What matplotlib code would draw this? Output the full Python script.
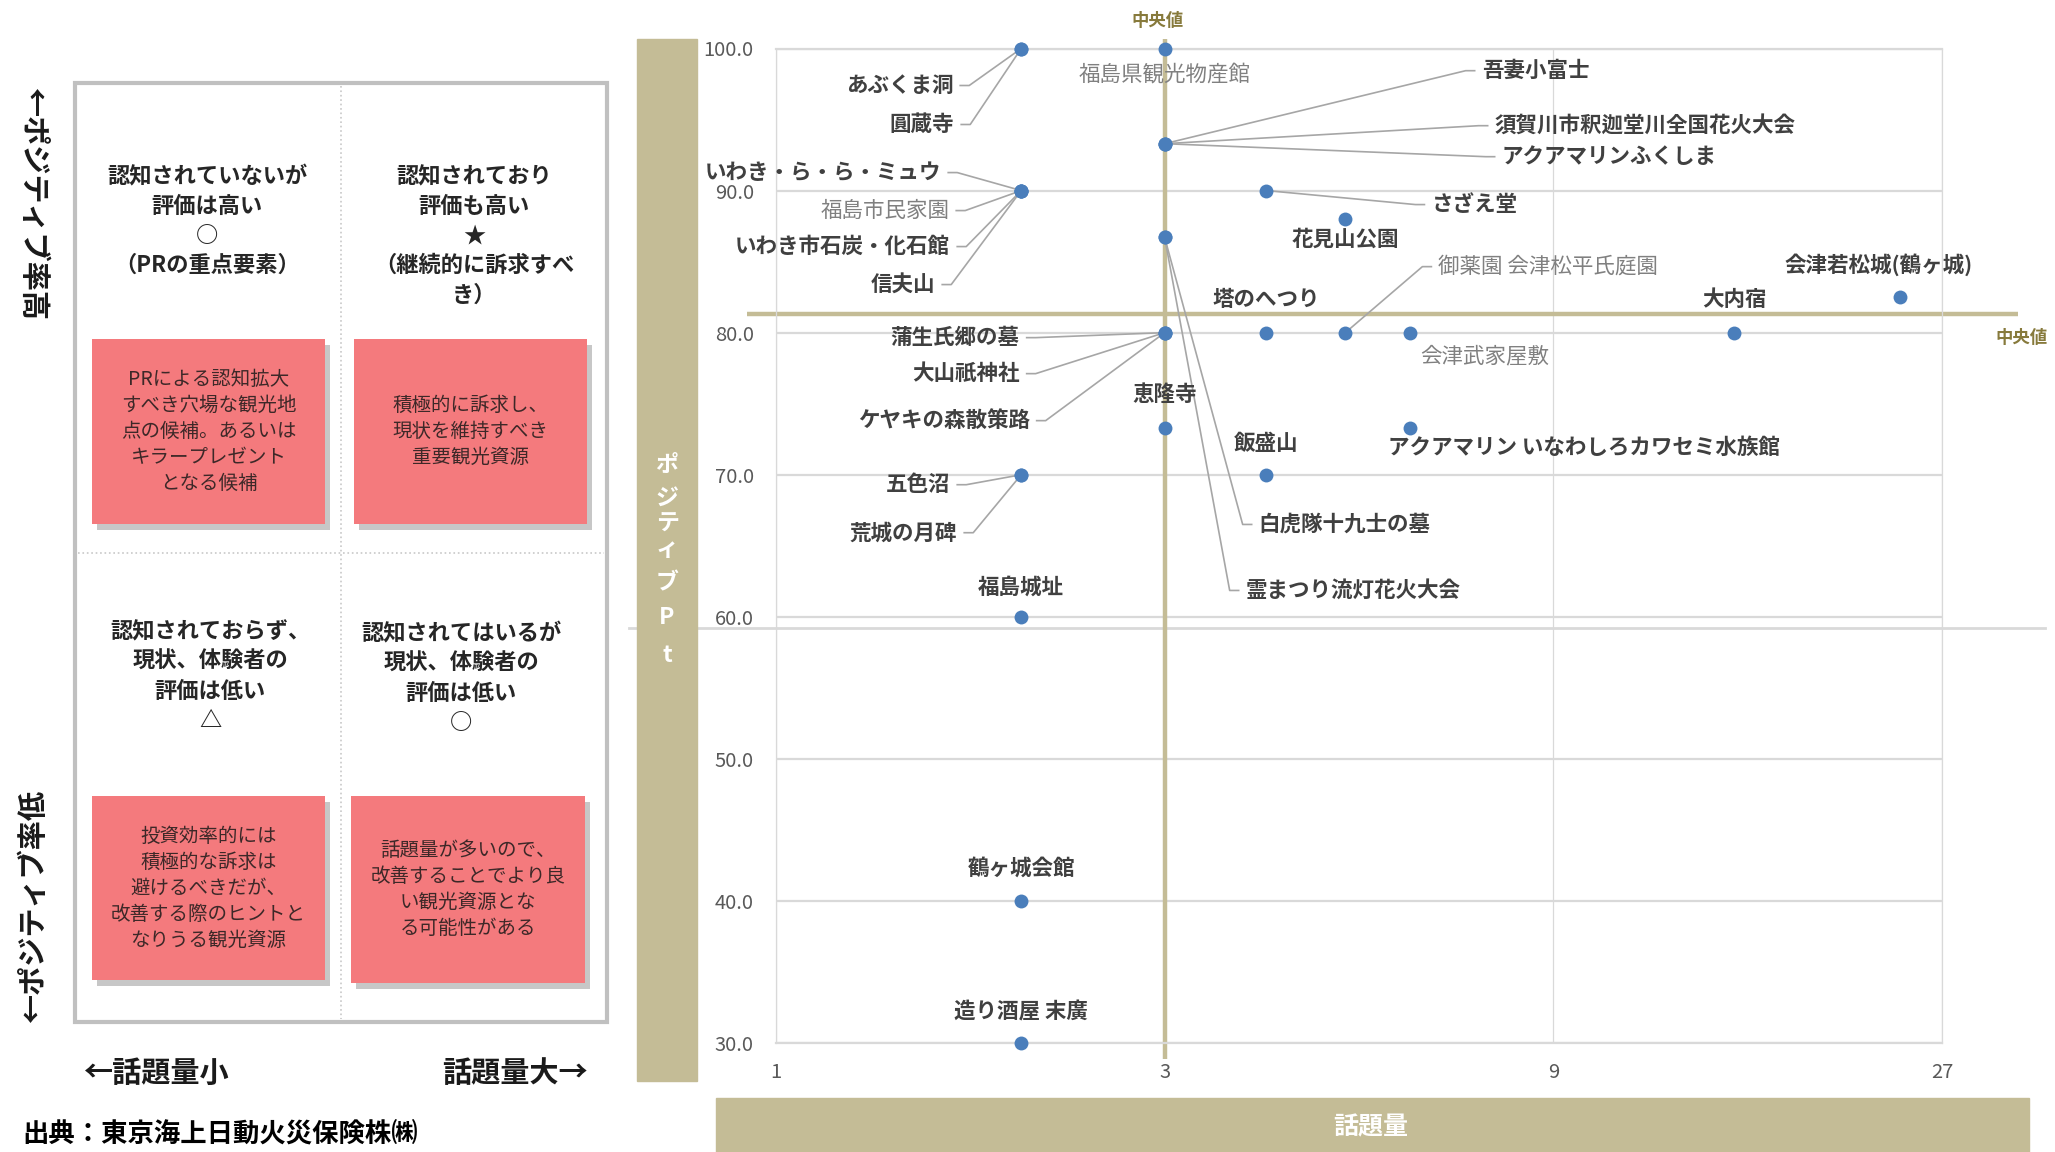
import matplotlib
matplotlib.use("Agg")
import matplotlib.pyplot as plt
from matplotlib.patches import Rectangle
from matplotlib.lines import Line2D
from matplotlib.transforms import IdentityTransform
from matplotlib.ticker import NullLocator

plt.rcParams['font.family'] = ['Noto Sans CJK JP', 'DejaVu Sans']

# ---------------- data ----------------
spot_names = [
    "あぶくま洞", "圓蔵寺", "福島県観光物産館",
    "吾妻小富士", "須賀川市釈迦堂川全国花火大会", "アクアマリンふくしま",
    "いわき・ら・ら・ミュウ", "福島市民家園", "いわき市石炭・化石館", "信夫山",
    "さざえ堂", "花見山公園", "白虎隊十九士の墓", "霊まつり流灯花火大会",
    "会津若松城(鶴ヶ城)", "大内宿", "塔のへつり", "御薬園 会津松平氏庭園",
    "会津武家屋敷", "蒲生氏郷の墓", "大山祇神社", "ケヤキの森散策路",
    "恵隆寺", "飯盛山", "アクアマリン いなわしろカワセミ水族館",
    "五色沼", "荒城の月碑", "福島城址", "鶴ヶ城会館", "造り酒屋 末廣",
]
topic_volume = [2, 2, 3, 3, 3, 3, 2, 2, 2, 2, 4, 5, 3, 3, 24, 15, 4, 5,
                6, 3, 3, 3, 3, 4, 6, 2, 2, 2, 2, 2]
positive_pt = [100.0, 100.0, 100.0, 93.3, 93.3, 93.3, 90.0, 90.0, 90.0, 90.0,
               90.0, 88.0, 86.7, 86.7, 82.5, 80.0, 80.0, 80.0, 80.0, 80.0,
               80.0, 80.0, 73.3, 70.0, 73.3, 70.0, 70.0, 60.0, 40.0, 30.0]
x_median = 3
y_median = 81.3
x_ticks = [1, 3, 9, 27]
y_ticks = [30, 40, 50, 60, 70, 80, 90, 100]

# label layout (pixel offsets from point, alignment, leader line, grey text)
label_layout = [
    (-68, -37, 'right', True, False), (-67, -76, 'right', True, False),
    (0, -26, 'center', False, True),
    (317, 73, 'left', True, False), (330, 18, 'left', True, False),
    (337, -13, 'left', True, False),
    (-80, 18, 'right', True, False), (-72, -20, 'right', True, True),
    (-71, -56, 'right', True, False), (-86, -94, 'right', True, False),
    (165, -14, 'left', True, False), (0, -20, 'center', False, False),
    (94, -287, 'left', True, False), (81, -353, 'left', True, False),
    (-22, 33, 'center', False, False), (0, 33, 'center', False, False),
    (0, 33, 'center', False, False), (93, 66, 'left', True, True),
    (75, -24, 'center', False, True),
    (-145, -5, 'right', True, False), (-145, -41, 'right', True, False),
    (-135, -88, 'right', True, False),
    (0, 33, 'center', False, False), (0, 31, 'center', False, False),
    (174, -20, 'center', False, False),
    (-71, -10, 'right', True, False), (-64, -58, 'right', True, False),
    (0, 30, 'center', False, False), (0, 33, 'center', False, False),
    (0, 31, 'center', False, False),
]

quadrant_titles = [
    ["認知されていないが", "評価は高い", "○", "（PRの重点要素）"],
    ["認知されており", "評価も高い", "★", "（継続的に訴求すべ", "き）"],
    ["認知されておらず、", "現状、体験者の", "評価は低い", "△"],
    ["認知されてはいるが", "現状、体験者の", "評価は低い", "○"],
]
quadrant_notes = [
    ["PRによる認知拡大", "すべき穴場な観光地", "点の候補。あるいは", "キラープレゼント", "となる候補"],
    ["積極的に訴求し、", "現状を維持すべき", "重要観光資源"],
    ["投資効率的には", "積極的な訴求は", "避けるべきだが、", "改善する際のヒントと", "なりうる観光資源"],
    ["話題量が多いので、", "改善することでより良", "い観光資源とな", "る可能性がある"],
]

# ---------------- figure ----------------
W, H = 2055, 1152
fig = plt.figure(figsize=(W / 100, H / 100), dpi=100)
fig.patch.set_facecolor('white')


def fx(x):
    return x / W


def fy(y):
    return 1 - y / H


BEIGE = '#c4bc96'
OLIVE = '#877a3c'
DARK = '#404040'
GREY = '#808080'

# separator line (behind axis-title box)
fig.add_artist(Line2D([fx(629), fx(2045)], [fy(628), fy(628)], color='#d9d9d9', lw=2.0,
                      transform=fig.transFigure, zorder=0))

# y-axis title box
fig.add_artist(Rectangle((fx(637), fy(1081)), (697 - 637) / W, (1081 - 39) / H,
                         transform=fig.transFigure, color=BEIGE, zorder=1))
for i, ch in enumerate(["ポ", "ジ", "テ", "ィ", "ブ", "P", "t"]):
    ys = [465, 498, 524, 550, 583, 618, 655][i]
    fig.text(fx(667), fy(ys), ch, color='white', fontsize=16.5, fontweight='bold',
             ha='center', va='center', zorder=2)

# x-axis title box
fig.add_artist(Rectangle((fx(716), 0), (2029 - 716) / W, (1152 - 1098) / H,
                         transform=fig.transFigure, color=BEIGE, zorder=1))
fig.text(fx(1371), fy(1127), "話題量", color='white', fontsize=18, fontweight='bold',
         ha='center', va='center', zorder=2)

# ---------------- scatter axes ----------------
ax = fig.add_axes([fx(776), fy(1043), (1942 - 776) / W, (1043 - 48.5) / H])
ax.set_xscale('log', base=3)
ax.set_xlim(1, 27)
ax.set_ylim(30, 100)
ax.set_xticks(x_ticks)
ax.set_xticklabels([str(v) for v in x_ticks])
ax.xaxis.set_minor_locator(NullLocator())
ax.set_yticks(y_ticks)
ax.set_yticklabels([f"{v:.1f}" for v in y_ticks])
ax.tick_params(axis='both', length=0, labelsize=14.5, labelcolor='#595959')
ax.tick_params(axis='x', pad=14)
ax.tick_params(axis='y', pad=16)
ax.set_axisbelow(True)
ax.yaxis.grid(True, color='#d9d9d9', lw=1.6)
ax.xaxis.grid(True, color='#d9d9d9', lw=0.9)
for side in ['top', 'bottom']:
    ax.spines[side].set_color('#d9d9d9')
    ax.spines[side].set_linewidth(1.6)
for side in ['left', 'right']:
    ax.spines[side].set_color('#d9d9d9')
    ax.spines[side].set_linewidth(0.9)
ax.patch.set_alpha(0)

# median lines
ax.plot([x_median, x_median], [-0.016, 1.0095], transform=ax.get_xaxis_transform(),
        clip_on=False, color=BEIGE, lw=3.2, zorder=2, solid_capstyle='butt')
ax.plot([-0.025, 1.065], [y_median, y_median], transform=ax.get_yaxis_transform(),
        clip_on=False, color=BEIGE, lw=3.2, zorder=2, solid_capstyle='butt')
fig.text(fx(1158), fy(21), "中央値", color=OLIVE, fontsize=12.5, fontweight='bold',
         ha='center', va='center')
fig.text(fx(2022), fy(338), "中央値", color=OLIVE, fontsize=12.5, fontweight='bold',
         ha='center', va='center')

ax.scatter(topic_volume, positive_pt, s=100, color='#4a7ebb', zorder=6, linewidths=0,
           clip_on=False)

fig.canvas.draw()
for name, xv, yv, (dx, dy, ha, leader, grey) in zip(spot_names, topic_volume, positive_pt,
                                                    label_layout):
    px, py = ax.transData.transform((xv, yv))
    lx, ly = px + dx, py + dy
    ax.annotate(name, xy=(xv, yv), xytext=(dx, dy), textcoords='offset pixels',
                ha=ha, va='center', fontsize=15.5,
                color=GREY if grey else DARK,
                fontweight='normal' if grey else 'bold', zorder=5,
                annotation_clip=False)
    if leader:
        sgn = 1 if ha == 'right' else -1
        xs = [lx + sgn * 7, lx + sgn * 16, px]
        ys = [ly, ly, py]
        ax.plot(xs, ys, transform=IdentityTransform(), clip_on=False,
                color='#a6a6a6', lw=1.2, zorder=4)

# ---------------- left explanatory panel ----------------
fig.add_artist(Rectangle((fx(75), fy(1022)), (607 - 75) / W, (1022 - 83) / H,
                         transform=fig.transFigure, fill=False, ec='#c0c0c0', lw=3))
fig.add_artist(Line2D([fx(341), fx(341)], [fy(86), fy(1019)], color='#c8c8c8', lw=1.2,
                      ls=':', transform=fig.transFigure))
fig.add_artist(Line2D([fx(78), fx(604)], [fy(553), fy(553)], color='#c8c8c8', lw=1.2,
                      ls=':', transform=fig.transFigure))

title_pos = [(207, 177), (474, 177), (210, 632), (461, 634)]
for lines, (cx, y0) in zip(quadrant_titles, title_pos):
    for i, t in enumerate(lines):
        fig.text(fx(cx), fy(y0 + i * 29.5), t, ha='center', va='center', fontsize=16,
                 fontweight='bold', color='#262626')

boxes = [(92, 339, 325, 524), (354, 339, 587, 524), (92, 796, 325, 980), (351, 796, 585, 983)]
for (x0, y0, x1, y1), lines in zip(boxes, quadrant_notes):
    fig.add_artist(Rectangle((fx(x0 + 5), fy(y1 + 6)), (x1 - x0) / W, (y1 - y0) / H,
                             transform=fig.transFigure, color='#9a9a9a', alpha=0.55, lw=0))
    fig.add_artist(Rectangle((fx(x0), fy(y1)), (x1 - x0) / W, (y1 - y0) / H,
                             transform=fig.transFigure, color='#f47a7d', lw=0))
    cx = (x0 + x1) / 2
    cy = (y0 + y1) / 2
    n = len(lines)
    for i, t in enumerate(lines):
        fig.text(fx(cx), fy(cy + (i - (n - 1) / 2) * 26), t, ha='center', va='center',
                 fontsize=14, color='#3d2828')

fig.text(fx(33), fy(205), "←ポジティブ率高", rotation=-90, ha='center', va='center',
         fontsize=21, color='#1a1a1a', fontweight='bold')
fig.text(fx(33), fy(905), "←ポジティブ率低", rotation=90, ha='center', va='center',
         fontsize=21, color='#1a1a1a', fontweight='bold')
fig.text(fx(157), fy(1073), "←話題量小", ha='center', va='center', fontsize=21,
         color='#1a1a1a', fontweight='bold')
fig.text(fx(515), fy(1073), "話題量大→", ha='center', va='center', fontsize=21,
         color='#1a1a1a', fontweight='bold')
fig.text(fx(22), fy(1149), "出典：東京海上日動火災保険株㈱", ha='left', va='bottom',
         fontsize=19, fontweight='bold', color='black')

fig.savefig("out.png", dpi=100)
